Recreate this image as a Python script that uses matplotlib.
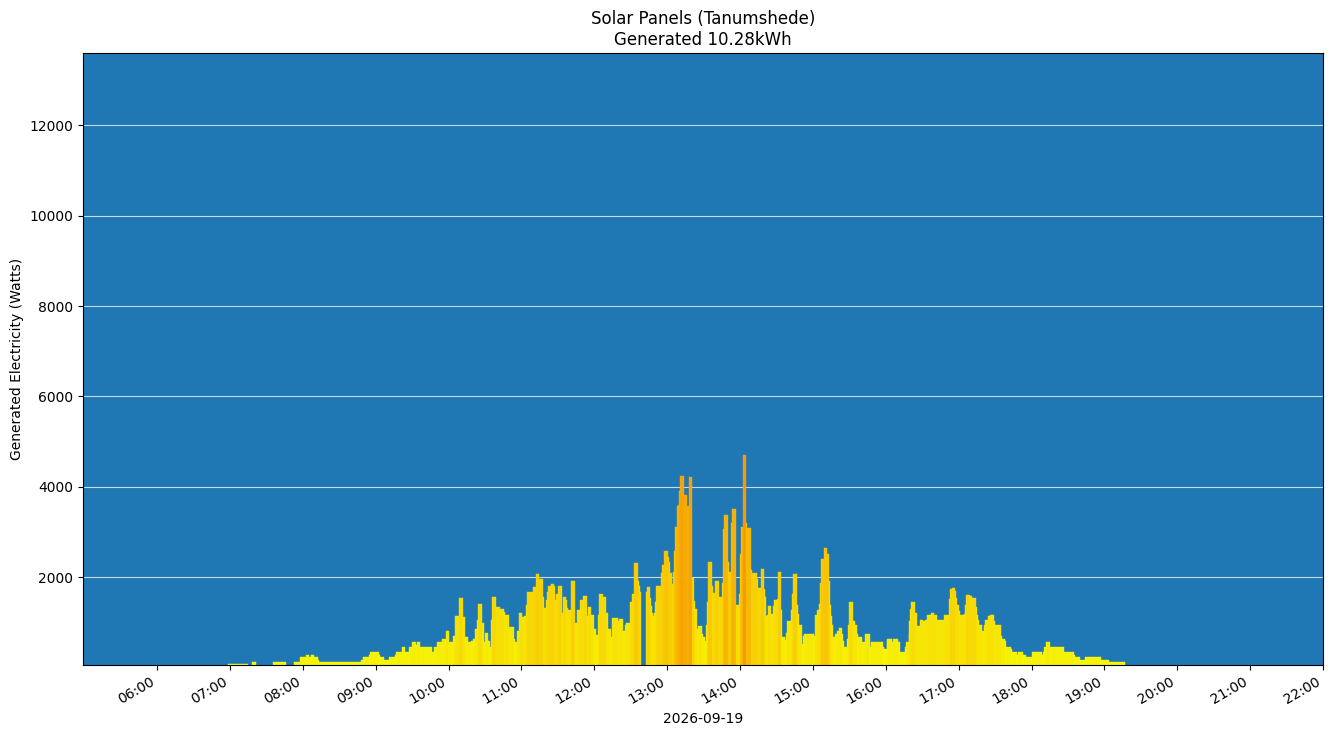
import datetime as dt
import numpy as np
import matplotlib
matplotlib.use("Agg")
import matplotlib.pyplot as plt
import matplotlib.dates as mdates
from matplotlib import cm, colors

# ---- data: change points (minute of day) and generated watts ----
start_minutes = [
    418.4, 434.5, 437.8, 441.1, 455.1, 465.8, 472.4, 477.3, 482.2, 484.7,
    486.3, 488.8, 492.1, 492.9, 528.2, 529.9, 534.8, 535.6, 543.0, 543.9,
    547.2, 551.3, 556.2, 557.0, 561.9, 564.4, 567.7, 570.2, 573.4, 574.3,
    576.7, 586.4, 588.2, 590.7, 594.8, 598.1, 600.5, 603.8, 605.5, 608.8,
    612.0, 613.7, 616.2, 618.6, 620.3, 621.9, 623.6, 624.4, 627.7, 629.3,
    630.1, 632.6, 634.2, 635.1, 635.9, 639.2, 642.5, 645.7, 646.6, 649.9,
    654.0, 654.8, 656.4, 658.1, 660.5, 662.2, 663.8, 664.7, 669.6, 672.0,
    674.5, 677.8, 678.6, 680.3, 681.1, 681.9, 684.4, 686.8, 687.7, 688.5,
    690.1, 693.4, 694.2, 696.7, 697.5, 698.4, 700.8, 704.1, 705.8, 708.2,
    710.7, 714.0, 714.8, 717.3, 719.7, 721.4, 723.0, 723.8, 727.1, 729.6,
    731.2, 733.7, 734.5, 739.5, 740.3, 743.6, 745.2, 746.1, 749.3, 751.0,
    752.6, 755.9, 756.7, 757.5, 758.4, 762.5, 763.3, 765.8, 766.6, 767.4,
    768.2, 769.1, 769.9, 770.7, 774.8, 775.6, 777.3, 780.6, 781.4, 782.2,
    783.8, 784.7, 785.5, 786.3, 787.9, 788.8, 789.6, 790.4, 793.7, 796.2,
    797.8, 800.3, 801.9, 802.7, 804.4, 805.2, 808.5, 809.3, 811.0, 811.8,
    812.6, 813.4, 816.7, 817.5, 819.2, 822.5, 825.0, 825.8, 826.6, 829.9,
    830.7, 832.3, 833.2, 836.5, 838.9, 839.7, 840.6, 842.2, 844.7, 845.5,
    848.8, 849.6, 853.7, 854.5, 857.0, 859.5, 860.3, 861.1, 861.9, 862.8,
    865.2, 866.9, 867.7, 870.2, 871.0, 873.4, 874.3, 876.7, 877.5, 878.4,
    881.7, 882.5, 883.3, 886.6, 887.4, 888.2, 890.7, 891.5, 892.3, 900.6,
    901.4, 903.1, 904.7, 905.5, 906.3, 908.8, 911.3, 912.9, 913.7, 914.5,
    915.4, 916.2, 917.8, 919.5, 921.1, 923.6, 924.4, 925.2, 927.7, 928.5,
    929.3, 932.6, 934.3, 935.9, 936.7, 937.5, 940.8, 942.5, 946.6, 947.4,
    948.2, 957.3, 958.9, 960.6, 961.4, 965.5, 966.3, 970.4, 971.3, 976.2,
    977.0, 978.7, 979.5, 980.3, 981.1, 984.4, 986.1, 988.5, 991.0, 992.6,
    994.3, 997.6, 1000.0, 1002.5, 1008.2, 1012.4, 1013.2, 1014.8, 1017.3, 1018.1,
    1018.9, 1020.6, 1021.4, 1024.7, 1025.5, 1026.3, 1029.6, 1031.3, 1034.6, 1035.4,
    1036.2, 1037.0, 1039.5, 1041.1, 1042.0, 1044.4, 1046.1, 1049.3, 1050.2, 1055.1,
    1055.9, 1058.4, 1059.2, 1063.3, 1064.1, 1068.3, 1069.1, 1073.2, 1075.7, 1080.6,
    1088.8, 1089.6, 1090.4, 1092.1, 1095.4, 1106.9, 1115.1, 1115.9, 1120.0, 1124.1,
    1137.3, 1143.9,
]
end_minute = 1157.0
watts = [
    82, 0, 126, 0, 126, 0, 126, 237, 281, 237,
    281, 237, 170, 126, 170, 237, 281, 347, 281, 237,
    170, 237, 281, 347, 458, 347, 458, 569, 502, 569,
    458, 347, 458, 569, 635, 812, 569, 700, 1144, 1542,
    1120, 679, 569, 591, 635, 856, 1055, 1409, 989, 569,
    768, 591, 458, 1055, 1564, 1343, 1298, 1232, 1166, 900,
    635, 569, 812, 1210, 1120, 1144, 1387, 1675, 1785, 2073,
    1962, 1564, 1321, 1498, 1675, 1807, 1851, 1807, 1498, 1630,
    1807, 1210, 1564, 1498, 1321, 1276, 1918, 989, 1276, 1498,
    1586, 1144, 1343, 1166, 856, 723, 1166, 1630, 1564, 1210,
    856, 679, 1099, 1033, 1077, 812, 945, 989, 1453, 1630,
    2316, 1918, 1807, 1675, 0, 1675, 1785, 1542, 1365, 1210,
    1144, 1210, 1453, 1807, 2095, 2272, 2581, 2449, 2338, 2095,
    1851, 2117, 2581, 3112, 3577, 3600, 3909, 4240, 3820, 3577,
    4218, 1984, 1475, 1298, 856, 922, 746, 679, 591, 945,
    1453, 2338, 1807, 1652, 1918, 1564, 1874, 3068, 3378, 2338,
    2117, 3201, 3510, 1387, 1630, 2515, 3112, 4705, 3201, 3090,
    2161, 2095, 1962, 1763, 2183, 1741, 1564, 1144, 1166, 1365,
    1188, 1365, 1498, 1520, 2117, 1276, 679, 613, 768, 1033,
    1276, 1630, 2073, 1387, 1188, 945, 524, 701, 746, 701,
    1166, 1276, 1409, 1874, 2404, 2648, 2515, 1918, 1387, 1144,
    945, 679, 746, 812, 878, 746, 591, 458, 635, 945,
    1453, 1033, 945, 746, 635, 679, 569, 746, 569, 458,
    569, 458, 414, 591, 635, 569, 635, 569, 347, 458,
    569, 768, 1033, 1298, 1453, 1210, 922, 1055, 1033, 1055,
    1166, 1210, 1166, 1055, 1166, 1520, 1741, 1763, 1697, 1542,
    1387, 1254, 1166, 1188, 1387, 1608, 1586, 1542, 1343, 1166,
    1055, 945, 812, 945, 1055, 1144, 1166, 1033, 945, 701,
    635, 591, 458, 414, 347, 281, 347, 281, 237, 347,
    281, 347, 458, 569, 458, 347, 281, 237, 170, 237,
    170, 126,
]
day = dt.datetime(2026, 9, 19)
title_text = "Solar Panels (Tanumshede)\nGenerated 10.28kWh"
x_label = "2026-09-19"
y_label = "Generated Electricity (Watts)"

# ---- build bars ----
starts = np.array(start_minutes)
ends = np.append(starts[1:], end_minute)
t0 = mdates.date2num([day + dt.timedelta(minutes=float(m)) for m in starts])
t1 = mdates.date2num([day + dt.timedelta(minutes=float(m)) for m in ends])
widths = t1 - t0
vals = np.array(watts, dtype=float)

norm = colors.Normalize(vmin=0, vmax=12000)
cmap = matplotlib.colormaps["autumn_r"]
bar_colors = cmap(norm(vals))

fig = plt.figure(figsize=(13.33, 7.36), dpi=100)
ax = fig.add_axes([0.0623, 0.0965, 0.9302, 0.8315])
ax.set_facecolor("#1f77b4")
ax.bar(t0, vals, width=widths, align="edge", color=bar_colors,
       linewidth=0.3, edgecolor=bar_colors, alpha=0.96, zorder=2)

ax.grid(axis="y", color="white", alpha=0.75, linewidth=0.8, zorder=1)
ax.set_axisbelow(True)
ax.set_ylim(60, 13600)
ax.set_yticks([2000, 4000, 6000, 8000, 10000, 12000])

xmin = mdates.date2num(day + dt.timedelta(hours=4, minutes=59))
xmax = mdates.date2num(day + dt.timedelta(hours=22))
ax.set_xlim(xmin, xmax)
ax.xaxis.set_major_locator(mdates.HourLocator(byhour=range(6, 23)))
ax.xaxis.set_major_formatter(mdates.DateFormatter("%H:%M"))
for lab in ax.get_xticklabels():
    lab.set_rotation(30)
    lab.set_ha("right")

ax.set_title(title_text, fontsize=12)
ax.set_xlabel(x_label)
ax.set_ylabel(y_label)

fig.savefig("out.png", dpi=100)
